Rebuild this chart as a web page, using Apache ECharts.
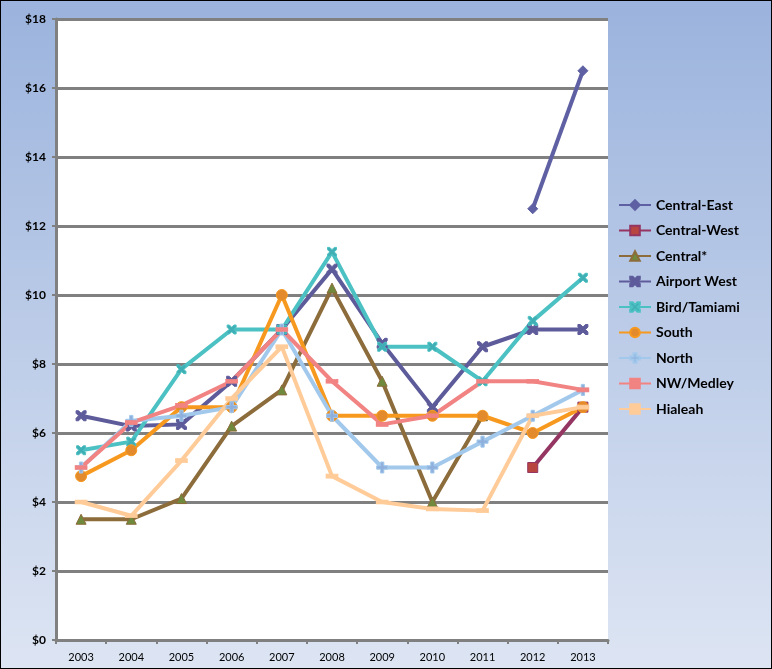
<!DOCTYPE html>
<html><head><meta charset="utf-8">
<script src="https://cdn.jsdelivr.net/npm/echarts@6/dist/echarts.min.js"></script>
<style>html,body{margin:0;padding:0;}#c{width:770px;height:667px;border:1px solid #000;}</style>
</head><body><div id="c"></div>
<script>
var years = ['2003','2004','2005','2006','2007','2008','2009','2010','2011','2012','2013'];
var centralEast = [null,null,null,null,null,null,null,null,null,12.5,16.5];
var centralWest = [null,null,null,null,null,null,null,null,null,5.0,6.75];
var centralStar = [3.5,3.5,4.1,6.2,7.25,10.2,7.5,4.0,6.5,null,null];
var airportWest = [6.5,6.2,6.25,7.5,9.0,10.75,8.6,6.75,8.5,9.0,9.0];
var birdTamiami = [5.5,5.75,7.85,9.0,9.0,11.25,8.5,8.5,7.5,9.25,10.5];
var south = [4.75,5.5,6.75,6.75,10.0,6.5,6.5,6.5,6.5,6.0,6.75];
var north = [5.0,6.35,6.5,6.75,9.0,6.5,5.0,5.0,5.75,6.5,7.25];
var nwMedley = [5.0,6.3,6.8,7.5,9.0,7.5,6.25,6.5,7.5,7.5,7.25];
var hialeah = [4.0,3.6,5.2,7.0,8.5,4.75,4.0,3.8,3.75,6.5,6.75];
var yTicks = [0,2,4,6,8,10,12,14,16,18];

var X = 'path://M0,0 L2.5,0 L5,2.5 L7.5,0 L10,0 L10,2.5 L7.5,5 L10,7.5 L10,10 L7.5,10 L5,7.5 L2.5,10 L0,10 L0,7.5 L2.5,5 L0,2.5 Z';
var PLUS = 'path://M3.5,0 H6.5 V3.5 H10 V6.5 H6.5 V10 H3.5 V6.5 H0 V3.5 H3.5 Z';

function s(name, data, color, symbol, size, mcolor) {
  return {
    name: name, type: 'line', data: data, symbol: symbol, symbolSize: size,
    connectNulls: false,
    lineStyle: {color: color, width: 4},
    itemStyle: {color: mcolor || color, borderColor: color, borderWidth: 1},
    emphasis: {disabled: true}
  };
}

var chart = echarts.init(document.getElementById('c'));
chart.setOption({
  animation: false,
  backgroundColor: {type: 'linear', x: 0, y: 0, x2: 0, y2: 1,
    colorStops: [{offset: 0, color: '#9BB3DD'}, {offset: 1, color: '#DDE5F3'}]},
  grid: {left: 55, right: 163, top: 18, bottom: 28, show: true, backgroundColor: '#ffffff', borderWidth: 0},
  legend: {
    orient: 'vertical', left: 612, top: 192, itemWidth: 32, itemHeight: 12, itemGap: 11.5,
    textStyle: {fontFamily: 'Lato', fontWeight: 'bold', fontSize: 14, color: '#000'},
    data: ['Central-East','Central-West','Central*','Airport West','Bird/Tamiami','South','North','NW/Medley','Hialeah']
  },
  xAxis: {
    type: 'category', data: years, boundaryGap: true,
    axisLine: {lineStyle: {color: '#808080', width: 3}},
    axisTick: {show: true, lineStyle: {color: '#808080', width: 2}, length: 4},
    axisLabel: {fontFamily: 'Lato', fontSize: 11, color: '#000', margin: 12}
  },
  yAxis: {
    type: 'value', min: 0, max: 18, interval: 2,
    axisLine: {show: true, lineStyle: {color: '#808080', width: 3}},
    axisTick: {show: true, lineStyle: {color: '#808080', width: 2}, length: 4},
    splitLine: {lineStyle: {color: '#808080', width: 3}},
    axisLabel: {fontFamily: 'Lato', fontWeight: 'bold', fontSize: 12, color: '#000', margin: 10,
      formatter: function (v) { return yTicks.indexOf(v) >= 0 ? '$' + v : ''; }}
  },
  series: [
    s('Central-East', centralEast, '#5E60A3', 'diamond', 10),
    s('Central-West', centralWest, '#943562', 'rect', 10, '#B8453F'),
    s('Central*', centralStar, '#8C6C3A', 'triangle', 10, '#6F8A3C'),
    s('Airport West', airportWest, '#5E5B9B', X, 10),
    s('Bird/Tamiami', birdTamiami, '#4CC1C3', X, 9, '#3FAFB5'),
    s('South', south, '#F7991F', 'circle', 11, '#E38A2C'),
    s('North', north, '#A2C9EC', PLUS, 11, '#8FB0DD'),
    s('NW/Medley', nwMedley, '#F28383', 'rect', [11, 4]),
    s('Hialeah', hialeah, '#FFCC99', 'rect', [11, 4])
  ]
});
</script></body></html>
